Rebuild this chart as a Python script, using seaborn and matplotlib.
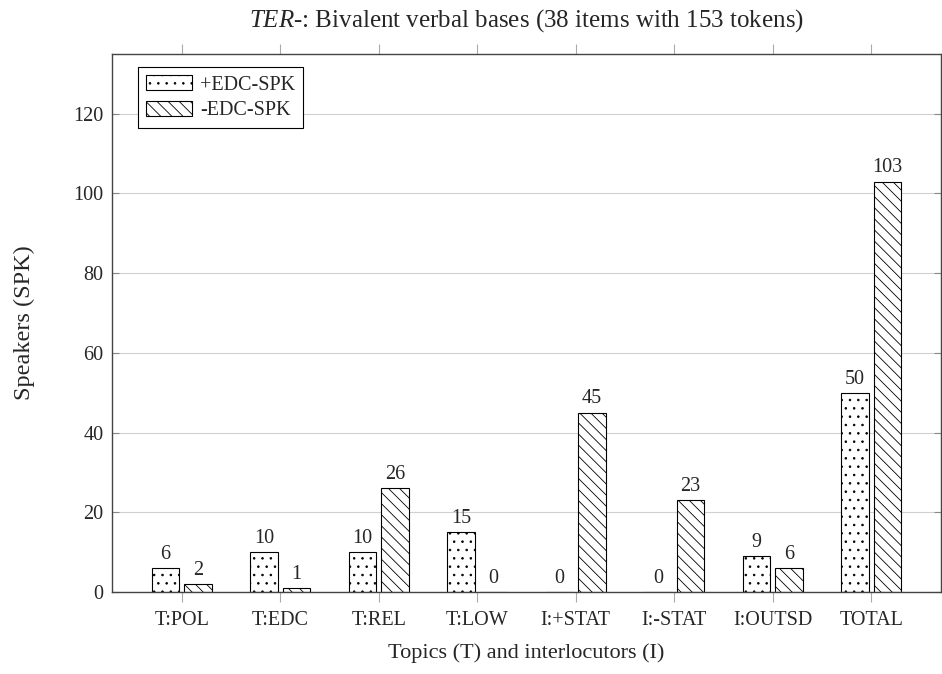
import matplotlib
matplotlib.use("Agg")
import matplotlib.pyplot as plt
import pandas as pd
import seaborn as sns
from matplotlib.patches import Patch

CATEGORIES = ["T:POL", "T:EDC", "T:REL", "T:LOW", "I:+STAT", "I:-STAT", "I:OUTSD", "TOTAL"]
PLUS_EDC   = [6, 10, 10, 15, 0, 0, 9, 50]
MINUS_EDC  = [2, 1, 26, 0, 45, 23, 6, 103]
SERIES     = ["+EDC-SPK", "-EDC-SPK"]
HATCHES    = {"+EDC-SPK": "..", "-EDC-SPK": "\\\\\\"}
Y_TICKS    = [0, 20, 40, 60, 80, 100, 120]

df = pd.DataFrame({
    "Topic":    CATEGORIES * 2,
    "Speakers": PLUS_EDC + MINUS_EDC,
    "Group":    [SERIES[0]] * len(CATEGORIES) + [SERIES[1]] * len(CATEGORIES),
})

sns.set_theme(style="white")
plt.rcParams["font.family"] = ["Liberation Serif", "DejaVu Serif"]
plt.rcParams["mathtext.fontset"] = "custom"
plt.rcParams["mathtext.it"] = "Liberation Serif:italic"
plt.rcParams["mathtext.rm"] = "Liberation Serif"
plt.rcParams["hatch.linewidth"] = 0.6
plt.rcParams["hatch.color"] = "black"

fig = plt.figure(figsize=(9.42, 6.74), dpi=100)
ax = fig.add_axes([0.1189, 0.1217, 0.8801, 0.7982])

sns.barplot(data=df, x="Topic", y="Speakers", hue="Group", order=CATEGORIES,
            hue_order=SERIES, width=0.66, gap=0.15,
            palette=["white", "white"], edgecolor="black", linewidth=0.8,
            legend=False, ax=ax)

# patterns + value labels on top of each bar
for cont, name in zip(ax.containers, SERIES):
    for bar in cont:
        bar.set_hatch(HATCHES[name])
    ax.bar_label(cont, padding=3, fontsize=14.5)

ax.set_xlim(-0.71, len(CATEGORIES) - 1 + 0.71)
ax.set_ylim(0, 135)
ax.set_yticks(Y_TICKS)
ax.yaxis.grid(True, color="#d0d0d0", linewidth=0.8)
ax.set_axisbelow(True)

for sp in ax.spines.values():
    sp.set_color("#444444")
    sp.set_linewidth(1.0)

ax.tick_params(axis="x", which="both", direction="out", length=7, width=0.8,
               color="#aaaaaa", top=True, bottom=True, labelsize=14.5, pad=7)
ax.tick_params(axis="y", direction="in", length=5, width=0.8, color="#888888",
               left=True, right=True, labelsize=14.5, pad=6)

ax.set_title(r"$\mathit{TER}$-: Bivalent verbal bases (38 items with 153 tokens)",
             fontsize=18, pad=20)
ax.set_xlabel("Topics (T) and interlocutors (I)", fontsize=16, labelpad=9)
ax.set_ylabel("Speakers (SPK)", fontsize=17.5, labelpad=28)

handles = [Patch(facecolor="white", edgecolor="black", hatch=HATCHES[s], linewidth=0.8)
           for s in SERIES]
leg = ax.legend(handles, SERIES, loc="upper left", bbox_to_anchor=(0.031, 0.976),
                borderaxespad=0, fancybox=False, framealpha=1, fontsize=14.5,
                handlelength=2.3, handleheight=0.8, handletextpad=0.4,
                borderpad=0.4, labelspacing=0.3)
leg.get_frame().set_edgecolor("black")
leg.get_frame().set_linewidth(0.8)

fig.savefig("out.png", dpi=100)
